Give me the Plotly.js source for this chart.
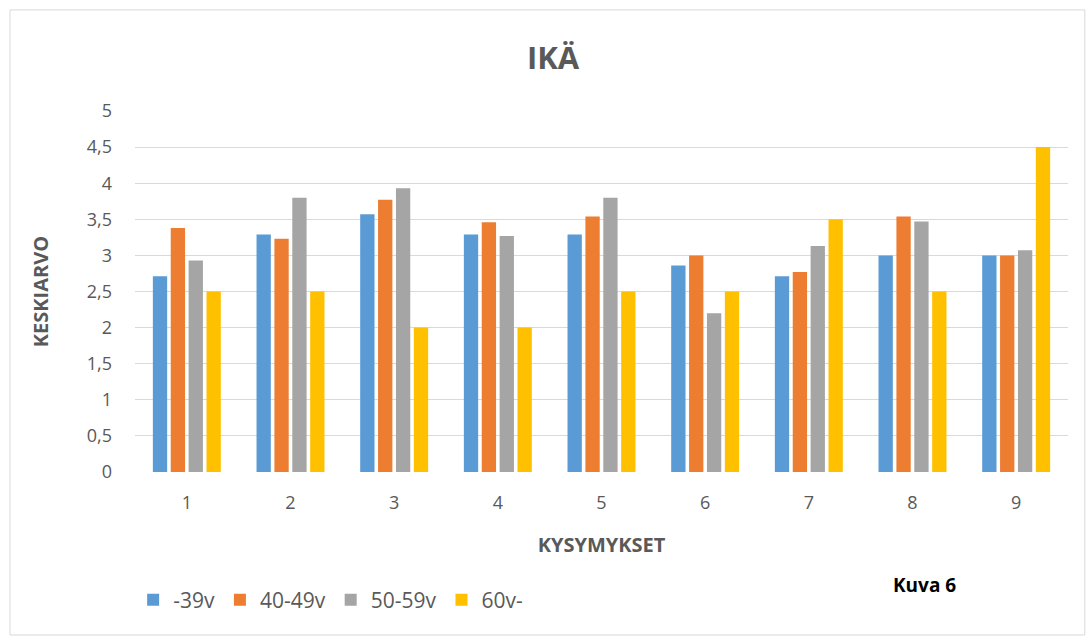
<!DOCTYPE html>
<html>
<head>
<meta charset="utf-8">
<script src="https://cdn.plot.ly/plotly-3.0.1.min.js"></script>
<style>
html,body{margin:0;padding:0;background:#fff;}
#chart{width:1091px;height:644px;}
</style>
</head>
<body>
<div id="chart"></div>
<script>
const categories = ['1','2','3','4','5','6','7','8','9'];
const seriesNames = ['-39v','40-49v','50-59v','60v-'];
const s39 = [2.71, 3.29, 3.57, 3.29, 3.29, 2.86, 2.71, 3.0, 3.0];
const s40 = [3.38, 3.23, 3.77, 3.46, 3.54, 3.0, 2.77, 3.54, 3.0];
const s50 = [2.93, 3.80, 3.93, 3.27, 3.80, 2.20, 3.13, 3.47, 3.07];
const s60 = [2.5, 2.5, 2.0, 2.0, 2.5, 2.5, 3.5, 2.5, 4.5];
const colors = ['#5b9bd5','#ed7d31','#a5a5a5','#ffc000'];
const yTickVals = [0,0.5,1,1.5,2,2.5,3,3.5,4,4.5,5];
const yTickText = ['0','0,5','1','1,5','2','2,5','3','3,5','4','4,5','5'];

const font = "'Open Sans', 'Liberation Sans', sans-serif";
const all = [s39, s40, s50, s60];
const data = all.map((vals, i) => ({
  type: 'bar',
  name: seriesNames[i],
  x: categories,
  y: vals,
  marker: {color: colors[i]},
  hoverinfo: 'x+y+name'
}));

const layout = {
  width: 1091, height: 644,
  margin: {l: 135, r: 23, t: 111, b: 172},
  paper_bgcolor: '#fff', plot_bgcolor: '#fff',
  font: {family: font, color: '#595959', size: 19},
  barmode: 'group',
  bargap: 0.31,
  bargroupgap: 0.2,
  title: {text: '<b>IKÄ</b>', font: {size: 31, color: '#595959', family: font}, x: 0.507, xanchor: 'center', y: 0.91, yanchor: 'middle'},
  xaxis: {
    type: 'category',
    showgrid: false, zeroline: false, showline: false, ticks: '',
    tickfont: {size: 18, color: '#595959'},
    ticklabelstandoff: 18,
    title: {text: '<b>KYSYMYKSET</b>', font: {size: 20, color: '#595959'}, standoff: 24}
  },
  yaxis: {
    range: [0, 5],
    tickvals: yTickVals, ticktext: yTickText,
    showgrid: true, gridcolor: '#d9d9d9', gridwidth: 1,
    zeroline: false, showline: false, ticks: '',
    tickfont: {size: 18, color: '#595959'},
    ticklabelstandoff: 22,
    title: {text: '<b>KESKIARVO</b>', font: {size: 20, color: '#595959'}, standoff: 32}
  },
  showlegend: true,
  legend: {
    orientation: 'h', x: -0.002, xanchor: 'left', y: -0.355, yanchor: 'middle',
    font: {size: 21, color: '#595959'},
    itemwidth: 30, traceorder: 'normal'
  },
  annotations: [{
    text: '<b>Kuva 6</b>', xref: 'paper', yref: 'paper',
    x: 0.846, y: -0.313, xanchor: 'center', yanchor: 'middle',
    showarrow: false, font: {size: 19, color: '#000', family: font}
  }],
  shapes: [{
    type: 'rect', xref: 'paper', yref: 'paper',
    x0: -0.134, x1: 1.018, y0: -0.4515, y1: 1.28,
    line: {color: '#d9d9d9', width: 1}, fillcolor: 'rgba(0,0,0,0)', layer: 'below'
  }]
};

Plotly.newPlot('chart', data, layout, {displayModeBar: false, responsive: false});
</script>
</body>
</html>
